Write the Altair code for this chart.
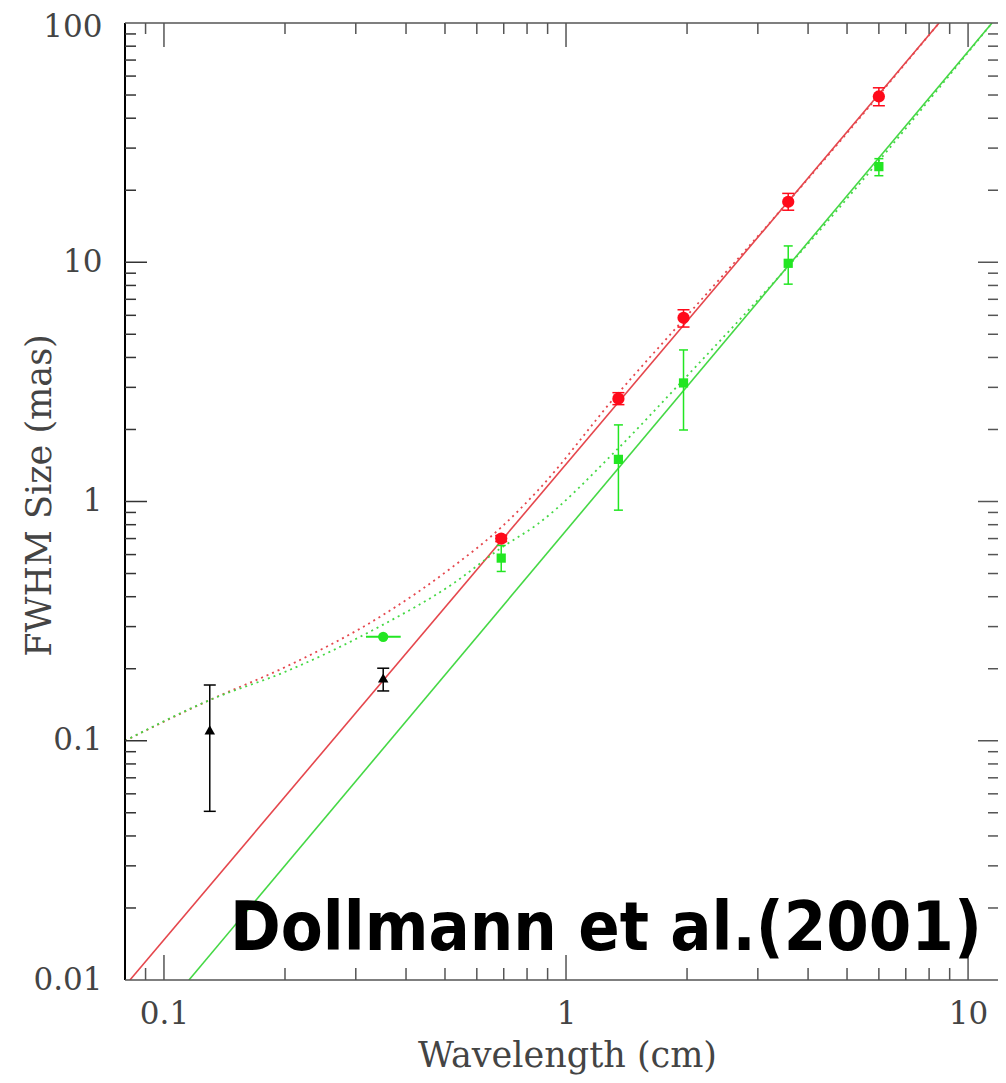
import altair as alt
import pandas as pd

# ---------------- data ----------------
# red circles (major axis sizes)
red_lam = [0.69, 1.35, 1.96, 3.57, 6.0]
red_size = [0.70, 2.69, 5.86, 17.9, 49.3]
red_lo = [0.68, 2.54, 5.36, 16.5, 45.1]
red_hi = [0.72, 2.85, 6.33, 19.4, 53.6]

# green squares (minor axis sizes)
green_lam = [0.69, 1.35, 1.96, 3.57, 6.0]
green_size = [0.58, 1.50, 3.13, 9.9, 25.1]
green_lo = [0.51, 0.92, 1.99, 8.1, 23.0]
green_hi = [0.655, 2.09, 4.30, 11.7, 27.1]

# green circle with horizontal error bar
gc_lam = [0.351]
gc_size = [0.272]
gc_lam_lo = [0.318]
gc_lam_hi = [0.388]

# black triangles
tri_lam = [0.130, 0.351]
tri_size = [0.111, 0.183]
tri_lo = [0.0507, 0.1615]
tri_hi = [0.171, 0.201]

# lambda^2 scattering fits (solid)
red_fit_lam = [0.0823, 8.47]
red_fit_size = [0.01, 100.0]
green_fit_lam = [0.1154, 11.47]
green_fit_size = [0.01, 100.0]

# intrinsic + scattering models (dotted)
red_model_lam = [0.08, 0.13, 0.20, 0.35, 0.52, 0.69, 0.846, 1.34, 1.95, 3.6, 8.47]
red_model_size = [0.1, 0.148, 0.203, 0.335, 0.53, 0.78, 1.1, 2.8, 5.7, 18.2, 100.0]
green_model_lam = [0.08, 0.13, 0.20, 0.35, 0.52, 0.69, 0.846, 1.34, 1.95, 3.47, 11.47]
green_model_size = [0.1, 0.148, 0.194, 0.305, 0.45, 0.64, 0.80, 1.65, 3.2, 9.12, 100.0]

# axis ticks
x_major = [0.1, 1, 10]
x_minor = [0.09, 0.2, 0.3, 0.4, 0.5, 0.6, 0.7, 0.8, 0.9, 2, 3, 4, 5, 6, 7, 8, 9]
y_labels = [0.01, 0.1, 1, 10, 100]
y_major = [0.1, 1, 10]
y_minor = [0.02, 0.03, 0.04, 0.05, 0.06, 0.07, 0.08, 0.09,
           0.2, 0.3, 0.4, 0.5, 0.6, 0.7, 0.8, 0.9,
           2, 3, 4, 5, 6, 7, 8, 9,
           20, 30, 40, 50, 60, 70, 80, 90]

annotation = "Dollmann et al.(2001)"

# ---------------- layout ----------------
W, H = 873, 957
RED_LINE = "#e5474d"
GREEN_LINE = "#45d845"
RED_PT = "#ff0a1a"
GREEN_PT = "#22e622"
FRAME = "#555555"
TXT = "#444444"
SERIF = "DejaVu Serif"

xs = alt.Scale(type="log", domain=[0.08, 11.87], nice=False, zero=False)
ys = alt.Scale(type="log", domain=[0.01, 100], nice=False, zero=False)

x_axis = alt.Axis(
    values=x_major, format="~g", ticks=False, tickSize=0, domain=False, grid=False,
    labelFont=SERIF, labelFontSize=31, labelColor=TXT, labelPadding=19, labelFlush=False,
    labelOverlap=False,
    title="Wavelength (cm)", titleFont=SERIF, titleFontSize=35, titleFontWeight="normal",
    titleColor=TXT, titleX=442, titleY=86, titleAlign="center", titleBaseline="alphabetic",
)
y_axis = alt.Axis(
    values=y_labels, format="~g", ticks=False, tickSize=0, domain=False, grid=False,
    labelFont=SERIF, labelFontSize=31, labelColor=TXT, labelPadding=23, labelFlush=False,
    labelOverlap=False,
    labelOffset={"condition": {"test": "datum.value >= 100", "value": 4}, "value": 0},
    title="FWHM Size (mas)", titleFont=SERIF, titleFontSize=35, titleFontWeight="normal",
    titleColor=TXT, titleAngle=270, titleX=-75, titleY=472, titleAlign="center",
    titleBaseline="alphabetic",
)


def df(**cols):
    return pd.DataFrame(cols)


red_df = df(lam=red_lam, size=red_size, lo=red_lo, hi=red_hi)
green_df = df(lam=green_lam, size=green_size, lo=green_lo, hi=green_hi)
gc_df = df(lam=gc_lam, size=gc_size, llo=gc_lam_lo, lhi=gc_lam_hi)
tri_df = df(lam=tri_lam, size=tri_size, lo=tri_lo, hi=tri_hi)


def X(f="lam"):
    return alt.X(f"{f}:Q", scale=xs, axis=x_axis)


def Y(f="size"):
    return alt.Y(f"{f}:Q", scale=ys, axis=y_axis)


red_fit = alt.Chart(df(lam=red_fit_lam, size=red_fit_size)).mark_line(
    color=RED_LINE, strokeWidth=1.6, clip=True
).encode(x=X(), y=Y())

green_fit = alt.Chart(df(lam=green_fit_lam, size=green_fit_size)).mark_line(
    color=GREEN_LINE, strokeWidth=1.6, clip=True
).encode(x=X(), y=Y())

red_model = alt.Chart(df(lam=red_model_lam, size=red_model_size)).mark_line(
    color=RED_LINE, strokeWidth=1.8, strokeDash=[2, 4], interpolate="monotone", clip=True
).encode(x=X(), y=Y())

green_model = alt.Chart(df(lam=green_model_lam, size=green_model_size)).mark_line(
    color=GREEN_LINE, strokeWidth=1.8, strokeDash=[2, 4], interpolate="monotone", clip=True
).encode(x=X(), y=Y())


def errbars(data, color, cap):
    v = alt.Chart(data).mark_rule(color=color, strokeWidth=1.5).encode(
        x=X(), y=Y("lo"), y2=alt.Y2("hi:Q"))
    c1 = alt.Chart(data).mark_rule(color=color, strokeWidth=1.5, xOffset=-cap, x2Offset=cap).encode(
        x=X(), x2=alt.X2("lam:Q"), y=Y("hi"))
    c2 = alt.Chart(data).mark_rule(color=color, strokeWidth=1.5, xOffset=-cap, x2Offset=cap).encode(
        x=X(), x2=alt.X2("lam:Q"), y=Y("lo"))
    return [v, c1, c2]


red_pts = alt.Chart(red_df).mark_point(shape="circle", filled=True, opacity=1, size=150, color=RED_PT).encode(x=X(), y=Y())
green_pts = alt.Chart(green_df).mark_point(shape="square", filled=True, opacity=1, size=85, color=GREEN_PT).encode(x=X(), y=Y())
gc_bar = alt.Chart(gc_df).mark_rule(color=GREEN_PT, strokeWidth=2).encode(x=X("llo"), x2=alt.X2("lhi:Q"), y=Y())
gc_pt = alt.Chart(gc_df).mark_point(shape="circle", filled=True, opacity=1, size=105, color=GREEN_PT).encode(x=X(), y=Y())
tri_pts = alt.Chart(tri_df).mark_point(shape="triangle-up", filled=True, opacity=1, size=110, color="black").encode(x=X(), y=Y())


# frame and inward ticks
def xticks(vals, y0, y1, color=FRAME):
    return alt.Chart(df(lam=vals)).mark_rule(color=color, strokeWidth=1.5).encode(
        x=X(), y=alt.value(y0), y2=alt.value(y1))


def yticks(vals, x0, x1, color=FRAME):
    return alt.Chart(df(size=vals)).mark_rule(color=color, strokeWidth=1.5).encode(
        y=Y(), x=alt.value(x0), x2=alt.value(x1))


frame_dummy = df(v=[0])
left_line = alt.Chart(frame_dummy).mark_rule(color="black", strokeWidth=2).encode(
    x=alt.value(0), y=alt.value(0), y2=alt.value(H))
top_line = alt.Chart(frame_dummy).mark_rule(color=FRAME, strokeWidth=1.6).encode(
    x=alt.value(0), x2=alt.value(W), y=alt.value(0))
bottom_line = alt.Chart(frame_dummy).mark_rule(color=FRAME, strokeWidth=1.6).encode(
    x=alt.value(0), x2=alt.value(W), y=alt.value(H))

tick_layers = [
    xticks(x_minor, H, H - 12), xticks(x_major, H, H - 25),
    xticks(x_minor, 0, 11), xticks(x_major, 0, 24),
    yticks(y_minor, 0, 11, "#333333"), yticks(y_major, 0, 22, "#333333"),
    yticks(y_minor, W, W - 10), yticks(y_major, W, W - 20),
]

label = alt.Chart(df(t=[annotation])).mark_text(
    font="DejaVu Sans Condensed, Liberation Sans Narrow, DejaVu Sans", fontSize=68, fontWeight="bold",
    align="left", baseline="alphabetic", color="black",
).encode(text="t:N", x=alt.value(105), y=alt.value(927))

layers = [red_fit, green_fit, red_model, green_model]
layers += errbars(red_df, RED_PT, 6) + errbars(green_df, GREEN_PT, 4.5) + errbars(tri_df, "black", 6)
layers += [gc_bar, red_pts, green_pts, gc_pt, tri_pts]
layers += [left_line, top_line, bottom_line] + tick_layers + [label]

chart = alt.layer(*layers).properties(
    width=W, height=H,
    autosize=alt.AutoSizeParams(type="none"),
    padding={"left": 117, "top": 15, "right": 0, "bottom": 95},
).configure_view(stroke=None).configure_axis(grid=False)

chart.save("out.html", embed_options={"renderer": "svg", "actions": False})
